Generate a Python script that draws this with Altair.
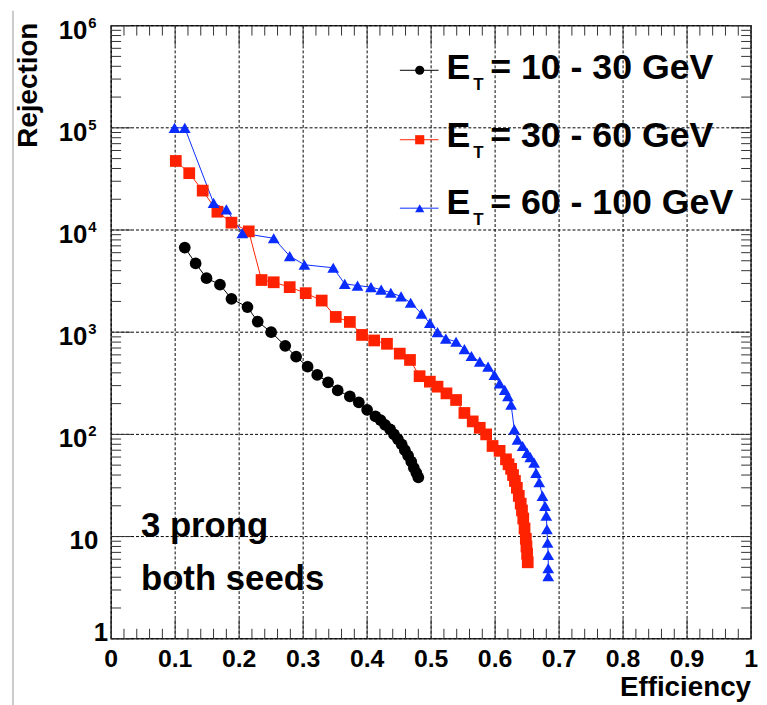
import altair as alt
import pandas as pd

# ---------------- data ----------------
series_names = ["10 - 30 GeV", "30 - 60 GeV", "60 - 100 GeV"]

eff_10_30 = [0.115, 0.132, 0.149, 0.170, 0.188, 0.213, 0.229, 0.250, 0.272, 0.289,
             0.307, 0.322, 0.339, 0.354, 0.373, 0.387, 0.400, 0.413, 0.421, 0.428,
             0.436, 0.442, 0.448, 0.454, 0.459, 0.464, 0.469, 0.473, 0.477, 0.480]
rej_10_30 = [6730, 4710, 3380, 2920, 2120, 1760, 1270, 1000, 736, 576,
             460, 382, 323, 269, 235, 206, 174, 150, 138, 124,
             112, 100, 90, 80, 70, 62, 54, 47, 42, 38]

eff_30_60 = [0.101, 0.122, 0.143, 0.166, 0.188, 0.215, 0.235, 0.254, 0.279, 0.304,
             0.329, 0.351, 0.373, 0.392, 0.411, 0.431, 0.451, 0.467, 0.482, 0.498,
             0.510, 0.524, 0.539, 0.552, 0.565, 0.576, 0.586, 0.596, 0.607, 0.617,
             0.621, 0.625, 0.628, 0.631, 0.634, 0.637, 0.640, 0.642, 0.644, 0.646,
             0.648, 0.649, 0.650, 0.651]
rej_30_60 = [47400, 36000, 24300, 15100, 11800, 9700, 3240, 3080, 2760, 2410,
             2040, 1410, 1260, 940, 830, 770, 617, 535, 371, 328,
             293, 252, 217, 162, 134, 116, 100, 77, 69, 57,
             51, 46, 40, 35, 30, 25, 21, 18, 15, 12,
             9.5, 8, 6.8, 5.6]

eff_60_100 = [0.099, 0.115, 0.160, 0.180, 0.205, 0.254, 0.279, 0.302, 0.347, 0.365,
              0.385, 0.406, 0.422, 0.437, 0.453, 0.468, 0.485, 0.498, 0.510, 0.523,
              0.539, 0.552, 0.563, 0.576, 0.589, 0.599, 0.607, 0.615, 0.620, 0.625,
              0.630, 0.635, 0.643, 0.650, 0.655, 0.661, 0.664, 0.669, 0.674, 0.678,
              0.680, 0.681, 0.682, 0.683, 0.683, 0.683]
rej_60_100 = [100000, 100000, 18400, 15900, 9300, 8300, 5560, 4570, 4270, 2970,
              2860, 2760, 2610, 2430, 2240, 1940, 1520, 1230, 1000, 865,
              806, 684, 585, 515, 460, 382, 316, 273, 236, 195,
              112, 89, 77, 66, 60, 53, 42, 34, 25, 20,
              16, 11.8, 8.7, 6.6, 4.9, 4.1]

x_ticks = [0, 0.1, 0.2, 0.3, 0.4, 0.5, 0.6, 0.7, 0.8, 0.9, 1.0]
x_tick_labels = ["0", "0.1", "0.2", "0.3", "0.4", "0.5", "0.6", "0.7", "0.8", "0.9", "1"]
x_minor = [0.02, 0.04, 0.06, 0.08, 0.12, 0.14, 0.16, 0.18, 0.22, 0.24, 0.26, 0.28,
           0.32, 0.34, 0.36, 0.38, 0.42, 0.44, 0.46, 0.48, 0.52, 0.54, 0.56, 0.58,
           0.62, 0.64, 0.66, 0.68, 0.72, 0.74, 0.76, 0.78, 0.82, 0.84, 0.86, 0.88,
           0.92, 0.94, 0.96, 0.98]
y_ticks = [1, 10, 100, 1000, 10000, 100000, 1000000]
y_tick_base = ["1", "10", "10", "10", "10", "10", "10"]
y_tick_exp = ["", "", "2", "3", "4", "5", "6"]
y_minor = [m * 10 ** k for k in range(6) for m in range(2, 10)]

legend_text = ["= 10 - 30 GeV", "= 30 - 60 GeV", "= 60 - 100 GeV"]
note_lines = ["3 prong", "both seeds"]
x_title = "Efficiency"
y_title = "Rejection"

# ---------------- styling ----------------
W, H = 645, 618
colors = ["#000000", "#ff2200", "#0a2cff"]
shapes = ["circle", "square", "triangle-up"]
sizes = [140, 140, 170]
FONT = "Liberation Sans"

rows = []
for name, es, rs in zip(series_names, [eff_10_30, eff_30_60, eff_60_100],
                        [rej_10_30, rej_30_60, rej_60_100]):
    for e, r in zip(es, rs):
        rows.append({"series": name, "eff": e, "rej": r})
df = pd.DataFrame(rows)

x_scale = alt.Scale(domain=[0, 1], nice=False, zero=False)
y_scale = alt.Scale(type="log", domain=[1, 1e6], nice=False)
color_scale = alt.Scale(domain=series_names, range=colors)
shape_scale = alt.Scale(domain=series_names, range=shapes)
size_scale = alt.Scale(domain=series_names, range=sizes)


def X():
    return alt.X("eff:Q", scale=x_scale, axis=None)


def Y():
    return alt.Y("rej:Q", scale=y_scale, axis=None)


base = alt.Chart(df)
lines = base.mark_line(strokeWidth=1).encode(
    x=X(), y=Y(),
    color=alt.Color("series:N", scale=color_scale, legend=None),
    order="eff:Q",
)
points = base.mark_point(filled=True, opacity=1, strokeWidth=0).encode(
    x=X(), y=Y(),
    color=alt.Color("series:N", scale=color_scale, legend=None),
    shape=alt.Shape("series:N", scale=shape_scale, legend=None),
    size=alt.Size("series:N", scale=size_scale, legend=None),
)

tick_color = "#333"
ymaj = pd.DataFrame({"rej": y_ticks})
ymin = pd.DataFrame({"rej": y_minor})
xmaj = pd.DataFrame({"eff": x_ticks, "lab": x_tick_labels})
xmin = pd.DataFrame({"eff": x_minor})

# dotted grid
grid_x = alt.Chart(xmaj).mark_rule(color="#000", strokeWidth=1, strokeDash=[3, 2]).encode(
    x=X(), y=alt.value(0), y2=alt.value(H))
grid_y = alt.Chart(ymaj).mark_rule(color="#000", strokeWidth=1, strokeDash=[3, 2]).encode(
    y=Y(), x=alt.value(0), x2=alt.value(W))


def yticks(d, L):
    left = alt.Chart(d).mark_rule(color=tick_color, strokeWidth=1).encode(
        y=Y(), x=alt.value(0), x2=alt.value(L))
    right = alt.Chart(d).mark_rule(color=tick_color, strokeWidth=1).encode(
        y=Y(), x=alt.value(W), x2=alt.value(W - L))
    return [left, right]


def xticks(d, L):
    bot = alt.Chart(d).mark_rule(color=tick_color, strokeWidth=1).encode(
        x=X(), y=alt.value(H), y2=alt.value(H - L))
    top = alt.Chart(d).mark_rule(color=tick_color, strokeWidth=1).encode(
        x=X(), y=alt.value(0), y2=alt.value(L))
    return [bot, top]


tick_layers = yticks(ymaj, 20) + yticks(ymin, 10) + xticks(xmaj, 20) + xticks(xmin, 10)

# x tick labels
xlab = alt.Chart(xmaj).mark_text(align="center", baseline="alphabetic", font=FONT,
                                 fontSize=25, fontWeight="bold", color="#000").encode(
    x=X(), y=alt.value(H + 28), text="lab:N")

# y tick labels with superscripts
ylab = pd.DataFrame({"rej": y_ticks, "base": y_tick_base, "exp": y_tick_exp})
ylab_pow = alt.Chart(ylab).transform_filter("datum.exp != ''").mark_text(
    align="right", baseline="alphabetic", dy=13, font=FONT, fontSize=26,
    fontWeight="bold", color="#000").encode(y=Y(), x=alt.value(-24), text="base:N")
ylab_exp = alt.Chart(ylab).transform_filter("datum.exp != ''").mark_text(
    align="left", baseline="alphabetic", dy=2, font=FONT, fontSize=15,
    fontWeight="bold", color="#000").encode(y=Y(), x=alt.value(-23), text="exp:N")
ylab_ten = alt.Chart(ylab).transform_filter("datum.rej == 10").mark_text(
    align="right", baseline="alphabetic", dy=13, font=FONT, fontSize=26,
    fontWeight="bold", color="#000").encode(y=Y(), x=alt.value(-13), text="base:N")
ylab_one = alt.Chart(ylab).transform_filter("datum.rej == 1").mark_text(
    align="right", baseline="alphabetic", dy=2, font=FONT, fontSize=26,
    fontWeight="bold", color="#000").encode(y=Y(), x=alt.value(-3), text="base:N")

one = alt.Data(values=[{}])


def txt(s, x, y, size, align="left", angle=0, weight="bold"):
    return alt.Chart(one).mark_text(text=s, align=align, baseline="alphabetic",
                                    font=FONT, fontSize=size, fontWeight=weight,
                                    color="#000", angle=angle).encode(
        x=alt.value(x), y=alt.value(y))


# legend
legend_layers = []
row_y = [45, 115, 184]
row_base = [54, 122, 190]
for i in range(3):
    legend_layers.append(alt.Chart(one).mark_rule(color=colors[i], strokeWidth=1).encode(
        x=alt.value(291), x2=alt.value(330), y=alt.value(row_y[i])))
    legend_layers.append(alt.Chart(one).mark_point(
        filled=True, opacity=1, shape=shapes[i], size=85, color=colors[i], strokeWidth=0
    ).encode(x=alt.value(311), y=alt.value(row_y[i])))
    legend_layers.append(txt("E", 338, row_base[i], 36))
    legend_layers.append(txt("T", 365, row_base[i] + 11, 17))
    legend_layers.append(txt(legend_text[i], 382, row_base[i], 36))

notes = [txt(note_lines[0], 30, 515, 35), txt(note_lines[1], 30, 569, 35)]
titles = [txt(x_title, W, 676, 28, align="right"),
          txt(y_title, -75, -3, 28, align="right", angle=270)]

edge = alt.Chart(one).mark_rule(color="#cccccc", strokeWidth=2).encode(
    x=alt.value(-99), y=alt.value(-15), y2=alt.value(700))

chart = alt.layer(
    grid_x, grid_y, lines, *tick_layers, points, xlab,
    ylab_pow, ylab_exp, ylab_ten, ylab_one,
    *legend_layers, *notes, *titles, edge
).properties(
    width=W, height=H,
    padding={"left": 104, "top": 15, "right": 8, "bottom": 64},
    autosize=alt.AutoSizeParams(type="none"),
    background="white",
).configure_view(stroke="#333", strokeWidth=1.5)

chart.save("out.html", embed_options={"renderer": "svg", "actions": False})
